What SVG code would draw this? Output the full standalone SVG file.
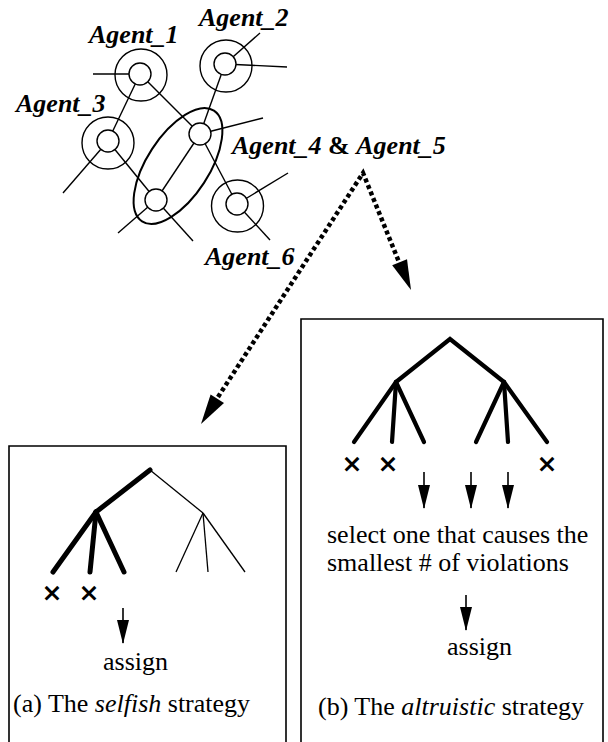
<svg xmlns="http://www.w3.org/2000/svg" width="608" height="742" viewBox="0 0 608 742">
  <style>
    .label { font-family: "Liberation Serif", "Times New Roman", serif; font-size: 26px; font-weight: bold; font-style: italic; fill: #000; }
    .txt { font-family: "Liberation Serif", "Times New Roman", serif; font-size: 26px; fill: #000; }
    .mark { font-family: "DejaVu Sans", sans-serif; font-size: 25px; font-weight: bold; fill: #000; text-anchor: middle; }
    .edge { stroke: #000; stroke-width: 1.4; fill: none; }
    .outer { stroke: #000; stroke-width: 1.4; fill: none; }
    .inner { stroke: #000; stroke-width: 1.4; fill: #fff; }
    .group { stroke: #000; stroke-width: 2; fill: none; }
    .box { stroke: #000; stroke-width: 1.6; fill: none; }
    .thick { stroke: #000; stroke-width: 5; stroke-linecap: round; fill: none; }
    .thick4 { stroke: #000; stroke-width: 4.2; stroke-linecap: round; fill: none; }
    .thin { stroke: #000; stroke-width: 1.3; fill: none; }
    .dotted { stroke: #000; stroke-width: 4.5; stroke-dasharray: 4 3; fill: none; }
    .down { stroke: #000; stroke-width: 1.6; fill: none; marker-end: url(#head); }
  </style>
  <defs>
    <!-- solid arrowhead for the short downward arrows -->
    <marker id="head" markerUnits="userSpaceOnUse" markerWidth="24" markerHeight="12" refX="23" refY="6" orient="auto" viewBox="0 0 24 12">
      <path d="M0,0 L24,6 L0,12 Z" fill="#000"/>
    </marker>
  </defs>

  <!-- links between agents, and links leaving the picture -->
  <g id="connectors">
    <line class="edge" x1="140" y1="74" x2="108" y2="141"/>
    <line class="edge" x1="140" y1="74" x2="200" y2="134"/>
    <line class="edge" x1="225" y1="64" x2="200" y2="134"/>
    <line class="edge" x1="200" y1="134" x2="156" y2="200"/>
    <line class="edge" x1="200" y1="134" x2="237" y2="204"/>
    <line class="edge" x1="108" y1="141" x2="156" y2="200"/>
    <line class="edge" x1="140" y1="74" x2="93" y2="74"/>
    <line class="edge" x1="225" y1="64" x2="260" y2="33"/>
    <line class="edge" x1="225" y1="64" x2="287" y2="67"/>
    <line class="edge" x1="108" y1="141" x2="63" y2="193"/>
    <line class="edge" x1="200" y1="134" x2="263" y2="118"/>
    <line class="edge" x1="156" y1="200" x2="118" y2="233"/>
    <line class="edge" x1="156" y1="200" x2="193" y2="241"/>
    <line class="edge" x1="237" y1="204" x2="288" y2="173"/>
    <line class="edge" x1="237" y1="204" x2="270" y2="240"/>
    <!-- dotted arrows to the two strategies -->
    <polyline class="dotted" points="218,397 363,173 399,262"/>
    <polygon points="210.6,394.5 224,403.1 201,424" fill="#000"/>
    <polygon points="392.2,265.3 407,259.3 411,290" fill="#000"/>
  </g>

  <g id="agent1">
    <circle class="outer" cx="141" cy="75" r="26"/>
    <circle class="inner" cx="140" cy="74" r="11"/>
    <text class="label" x="89" y="43">Agent_1</text>
  </g>
  <g id="agent2">
    <circle class="outer" cx="226" cy="66" r="26"/>
    <circle class="inner" cx="225" cy="64" r="11"/>
    <text class="label" x="199" y="26">Agent_2</text>
  </g>
  <g id="agent3">
    <circle class="outer" cx="108" cy="143" r="26"/>
    <circle class="inner" cx="108" cy="141" r="11"/>
    <text class="label" x="16" y="112">Agent_3</text>
  </g>
  <g id="agent4-5">
    <ellipse class="group" cx="178" cy="166" rx="66" ry="31" transform="rotate(-57 178 166)"/>
    <circle class="inner" cx="200" cy="134" r="11"/>
    <circle class="inner" cx="156" cy="200" r="11"/>
    <text class="label" x="232" y="154">Agent_4<tspan font-style="normal"> &amp; </tspan>Agent_5</text>
  </g>
  <g id="agent6">
    <circle class="outer" cx="237.5" cy="206" r="26"/>
    <circle class="inner" cx="237" cy="204" r="11"/>
    <text class="label" x="205" y="265">Agent_6</text>
  </g>

  <!-- (a) selfish strategy -->
  <g id="selfish">
    <path class="box" d="M9,750 V446 H286 V750"/>
    <polyline class="thick" points="150,470 96,512"/>
    <line class="thick" x1="96" y1="512" x2="53" y2="572"/>
    <line class="thick" x1="96" y1="512" x2="90" y2="572"/>
    <line class="thick" x1="96" y1="512" x2="124" y2="572"/>
    <line class="thin" x1="150" y1="470" x2="203" y2="513"/>
    <line class="thin" x1="203" y1="513" x2="176" y2="572"/>
    <line class="thin" x1="203" y1="513" x2="208" y2="572"/>
    <line class="thin" x1="203" y1="513" x2="245" y2="572"/>
    <text class="mark" x="52" y="601">×</text>
    <text class="mark" x="89" y="601">×</text>
    <line class="down" x1="123" y1="608" x2="123" y2="643"/>
    <text class="txt" x="103" y="670">assign</text>
    <text class="txt" x="13" y="712">(a) The <tspan font-style="italic">selfish</tspan> strategy</text>
  </g>

  <!-- (b) altruistic strategy -->
  <g id="altruistic">
    <path class="box" d="M301,750 V319 H603 V750"/>
    <polyline class="thick4" points="396,382 450,339 504,382"/>
    <line class="thick4" x1="396" y1="382" x2="354" y2="442"/>
    <line class="thick4" x1="396" y1="382" x2="392" y2="442"/>
    <line class="thick4" x1="396" y1="382" x2="424" y2="442"/>
    <line class="thick4" x1="504" y1="382" x2="476" y2="442"/>
    <line class="thick4" x1="504" y1="382" x2="508" y2="442"/>
    <line class="thick4" x1="504" y1="382" x2="547" y2="442"/>
    <text class="mark" x="352" y="472">×</text>
    <text class="mark" x="388" y="472">×</text>
    <text class="mark" x="547" y="472">×</text>
    <line class="down" x1="424" y1="472" x2="424" y2="508"/>
    <line class="down" x1="471" y1="472" x2="471" y2="508"/>
    <line class="down" x1="508" y1="472" x2="508" y2="508"/>
    <text class="txt" x="327" y="543">select one that causes the</text>
    <text class="txt" x="327" y="571">smallest # of violations</text>
    <line class="down" x1="466" y1="595" x2="466" y2="630"/>
    <text class="txt" x="447" y="655">assign</text>
    <text class="txt" x="318" y="715">(b) The <tspan font-style="italic">altruistic</tspan> strategy</text>
  </g>
</svg>
